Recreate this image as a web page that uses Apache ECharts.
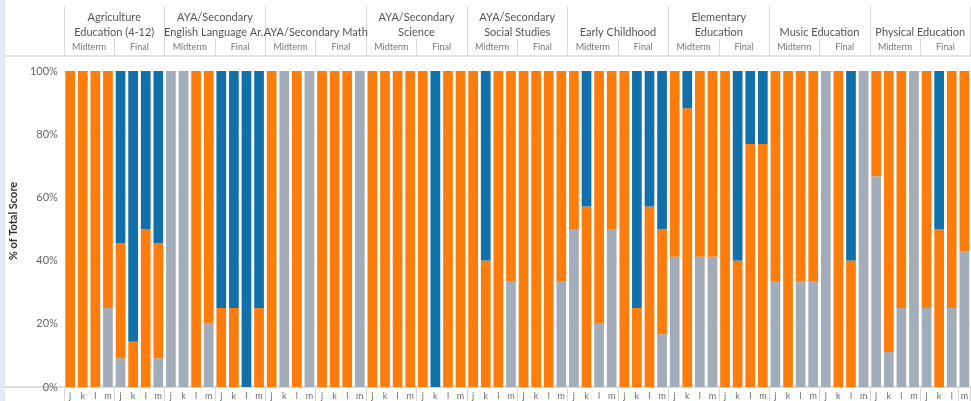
<!DOCTYPE html>
<html>
<head>
<meta charset="utf-8">
<script src="https://cdn.jsdelivr.net/npm/echarts@6/dist/echarts.min.js"></script>
<style>
html,body{margin:0;padding:0;background:#fff;}
#chart{width:971px;height:401px;}
</style>
</head>
<body>
<div id="chart"></div>
<script>
// ---- data ----
const subjects = [
  "Agriculture\nEducation (4-12)",
  "AYA/Secondary\nEnglish Language Ar..",
  "AYA/Secondary Math",
  "AYA/Secondary\nScience",
  "AYA/Secondary\nSocial Studies",
  "Early Childhood",
  "Elementary\nEducation",
  "Music Education",
  "Physical Education"
];
const terms = ["Midterm", "Final"];
const students = ["j", "k", "l", "m"];
const yTicks = [0, 20, 40, 60, 80, 100];

// % of total score per bar, ordered subject > term > student
const greyPct = [
  0, 0, 0, 25,        9.1, 0, 0, 9.1,
  100, 100, 0, 20,    0, 0, 0, 0,
  0, 100, 0, 100,     0, 0, 0, 100,
  0, 0, 0, 0,         0, 0, 0, 0,
  0, 0, 0, 33.3,      0, 0, 0, 33.3,
  50, 0, 20, 50,      0, 0, 0, 16.7,
  41.2, 0, 41.2, 41.2, 0, 0, 0, 0,
  33.3, 0, 33.3, 33.3, 100, 0, 0, 100,
  66.7, 11.1, 25, 100, 25, 0, 25, 42.9
];
const orangePct = [
  100, 100, 100, 75,  36.4, 14.3, 50, 36.4,
  0, 0, 100, 80,      25, 25, 0, 25,
  100, 0, 100, 0,     100, 100, 100, 0,
  100, 100, 100, 100, 100, 0, 100, 100,
  100, 40, 100, 66.7, 100, 100, 100, 66.7,
  50, 57.1, 80, 50,   100, 25, 57.1, 33.3,
  58.8, 88.2, 58.8, 58.8, 100, 40, 76.9, 76.9,
  66.7, 100, 66.7, 66.7, 0, 100, 40, 0,
  33.3, 88.9, 75, 0,  75, 50, 75, 57.1
];
const bluePct = [
  0, 0, 0, 0,         54.5, 85.7, 50, 54.5,
  0, 0, 0, 0,         75, 75, 100, 75,
  0, 0, 0, 0,         0, 0, 0, 0,
  0, 0, 0, 0,         0, 100, 0, 0,
  0, 60, 0, 0,        0, 0, 0, 0,
  0, 42.9, 0, 0,      0, 75, 42.9, 50,
  0, 11.8, 0, 0,      0, 60, 23.1, 23.1,
  0, 0, 0, 0,         0, 0, 60, 0,
  0, 0, 0, 0,         0, 50, 0, 0
];

// ---- derived categories ----
const barCats = [];
const termCats = [];
subjects.forEach((s, si) => {
  terms.forEach((t, ti) => {
    termCats.push(t);
    students.forEach(st => barCats.push(st));
  });
});

const FONT = "Lato";
const gridLeft = 63, gridTop = 71, gridH = 316;
const pitch = 12.667;
const gridW = pitch * barCats.length;

const chart = echarts.init(document.getElementById('chart'), null, {renderer: 'canvas'});
const option = {
  animation: false,
  backgroundColor: '#ffffff',
  textStyle: {fontFamily: FONT},
  grid: {left: gridLeft, top: gridTop, width: gridW, height: gridH, containLabel: false},
  xAxis: [
    {
      type: 'category', data: barCats, position: 'bottom',
      axisLine: {show: true, lineStyle: {color: '#dcdcdc', width: 2}},
      axisTick: {show: true, interval: 3, length: 14, lineStyle: {color: '#d6d6d6', width: 1}},
      axisLabel: {interval: 0, margin: 5, fontSize: 9, color: '#6b6b6b', fontFamily: FONT},
      splitLine: {show: false}
    },
    {
      type: 'category', data: termCats, position: 'top', offset: 15, gridIndex: 0,
      axisLine: {show: true, lineStyle: {color: '#e3e3e3', width: 2}},
      axisTick: {show: true, interval: 0, length: 17, lineStyle: {color: '#d9d9d9', width: 1}},
      axisLabel: {interval: 0, margin: 4, fontSize: 9, color: '#777777', fontFamily: FONT},
      splitLine: {show: false}
    },
    {
      type: 'category', data: subjects, position: 'top', offset: 15, gridIndex: 0,
      axisLine: {show: false},
      axisTick: {show: true, interval: 0, length: 50, lineStyle: {color: '#d9d9d9', width: 1}},
      axisLabel: {interval: 0, margin: 16, fontSize: 11, lineHeight: 15, color: '#555555', fontFamily: FONT, hideOverlap: false},
      splitLine: {show: false}
    }
  ],
  yAxis: {
    type: 'value', min: yTicks[0], max: yTicks[yTicks.length - 1], interval: 20,
    name: '% of Total Score', nameLocation: 'middle', nameGap: 42, nameRotate: 90,
    nameTextStyle: {fontSize: 11, fontWeight: 'bold', color: '#333333', fontFamily: FONT, padding: [0, 0, 0, 16]},
    axisLine: {show: false}, axisTick: {show: false},
    axisLabel: {formatter: '{value}%', margin: 6, fontSize: 11, color: '#666666', fontFamily: FONT},
    splitLine: {show: true, lineStyle: {color: '#f0f0f0', width: 1}}
  },
  series: [
    {name: 'Grey', type: 'bar', stack: 'pct', data: greyPct, itemStyle: {color: '#a3acb9'}, barCategoryGap: '23%'},
    {name: 'Orange', type: 'bar', stack: 'pct', data: orangePct, itemStyle: {color: '#fc7d0b'}, barCategoryGap: '23%'},
    {name: 'Blue', type: 'bar', stack: 'pct', data: bluePct, itemStyle: {color: '#1170aa'}, barCategoryGap: '23%'}
  ],
  graphic: [
    {type: 'rect', shape: {x: 0, y: 0, width: 5, height: 401}, style: {fill: '#e6e9f1'}, silent: true},
    {type: 'line', shape: {x1: 5, y1: 56, x2: gridLeft, y2: 56}, style: {stroke: '#e3e3e3', lineWidth: 2}, silent: true},
    {type: 'line', shape: {x1: 5, y1: 387, x2: gridLeft, y2: 387}, style: {stroke: '#dcdcdc', lineWidth: 2}, silent: true}
  ]
};
chart.setOption(option);
</script>
</body>
</html>
